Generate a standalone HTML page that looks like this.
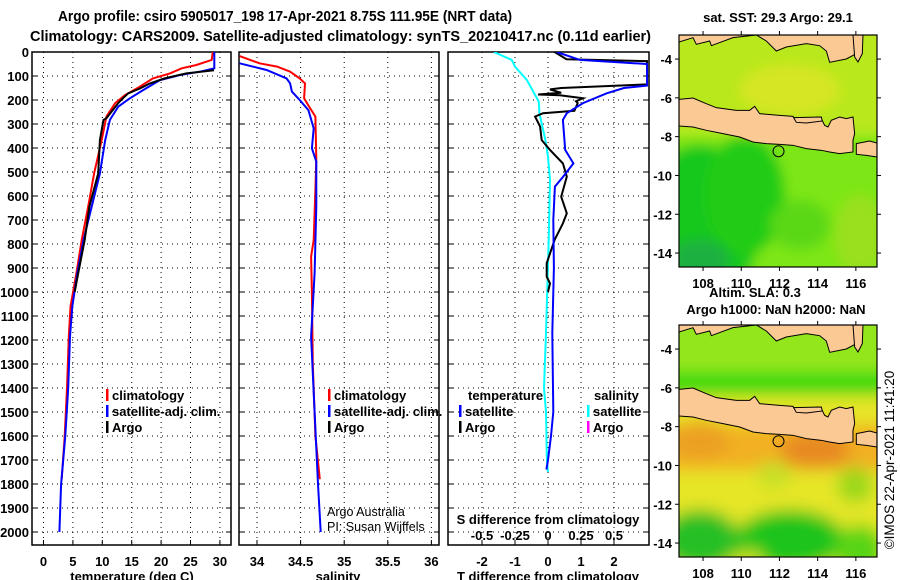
<!DOCTYPE html>
<html><head><meta charset="utf-8">
<style>
body{margin:0;background:#fff;}
svg{display:block;font-family:"Liberation Sans",sans-serif;}
.b{font-weight:bold;font-size:14.5px;}
.t{font-weight:bold;font-size:13px;}
</style></head><body>
<svg id="chart" width="900" height="580" viewBox="0 0 900 580" xmlns="http://www.w3.org/2000/svg">
<rect width="900" height="580" fill="#fff"/>
<text class="b" x="58" y="21" textLength="454" lengthAdjust="spacingAndGlyphs">Argo profile: csiro 5905017_198 17-Apr-2021 8.75S 111.95E (NRT data)</text>
<text class="b" x="30" y="41" textLength="621" lengthAdjust="spacingAndGlyphs">Climatology: CARS2009. Satellite-adjusted climatology: synTS_20210417.nc (0.11d earlier)</text>
<g id="panels"></g>
<g id="maps"></g>
</svg>
<script>
// ---------- data ----------
const depthTicks=[0,100,200,300,400,500,600,700,800,900,1000,1100,1200,1300,1400,1500,1600,1700,1800,1900,2000];
const tempTicks=[0,5,10,15,20,25,30];
const salTicks=[34,34.5,35,35.5,36];
const tdiffTicks=[-2,-1,0,1,2];
const sdiffTicks=[-0.5,-0.25,0,0.25,0.5];
const sdiffTickLabels=["-0.5","-0.25","0","0.25","0.5"];

const tClimDepth=[0,33,54,68,89,110,144,179,213,269,367,506,644,783,922,1061,1186,1400,1600,1780];
const tClimVal=[28.8,28.6,26,23.5,21.5,18.6,16.4,13.9,12.2,10.7,9.9,8.6,7.6,6.5,5.6,4.6,4.3,4.0,3.6,3.1];
const tSatDepth=[0,68,82,96,117,158,193,228,283,367,506,644,783,922,1061,1186,1400,1600,1800,2000];
const tSatVal=[29.05,29.05,26.6,23.2,19.8,17,14.7,12.7,11.3,10.5,9.6,8.2,6.8,5.75,4.9,4.5,4.2,3.7,3.0,2.7];
const tArgoDepth=[76,89,110,131,152,172,193,213,276,283,367,506,644,783,922,1000];
const tArgoVal=[29.0,24.3,20.6,18.1,16.4,14.4,13.5,12.7,10.7,10.2,9.6,9.3,7.8,7.0,5.9,5.3];

const sClimDepth=[17,47,61,82,110,131,193,235,269,443,575,783,853,1000,1300,1600,1780];
const sClimVal=[33.8,34.03,34.23,34.38,34.49,34.55,34.54,34.61,34.67,34.68,34.67,34.65,34.62,34.63,34.64,34.67,34.72];
const sSatDepth=[47,75,110,131,165,200,242,318,401,457,644,922,1186,1500,1800,2000];
const sSatVal=[33.8,34.11,34.34,34.38,34.40,34.49,34.59,34.65,34.63,34.68,34.68,34.66,34.62,34.66,34.70,34.73];

const dtSatDepth=[0,33,50,140,150,172,213,255,283,408,464,519,561,700,900,1172,1400,1500,1600,1700,1740];
const dtSatVal=[0.26,0.97,3.0,3.0,2.3,1.78,1.06,0.57,0.45,0.52,0.77,0.46,0.21,0.16,0.18,0.13,0.15,0.16,0.09,0.0,-0.05];
const dtArgoDepth=[0,30,38,135,150,156,170,177,180,193,205,213,245,255,269,311,367,408,464,519,603,672,714,783,880,936,964,1000];
const dtArgoVal=[0.2,0.56,3.0,3.0,0.4,0.06,0.4,-0.3,0.36,1.06,0.85,0.9,0.8,-0.15,-0.39,-0.24,-0.19,0.06,0.45,0.57,0.4,0.57,0.45,0.2,-0.04,-0.04,0.06,0.0];
const dsSatDepth=[0,33,61,117,207,255,367,436,533,783,1172,1400,1500,1700,1750];
const dsSatVal=[-0.41,-0.275,-0.25,-0.16,-0.07,-0.065,-0.02,0,0.015,0.005,-0.015,-0.03,-0.015,-0.008,0];

// ---------- axes ----------
const yD=d=>52+d*0.24;
const xT=t=>43.5+t*5.88;
const xS=s=>257+(s-34)*87.2;
const xDT=t=>548+t*33;
const xDS=s=>548+s*132;

const NS="http://www.w3.org/2000/svg";
const P=document.getElementById('panels');
function el(tag,attrs,parent,txt){const e=document.createElementNS(NS,tag);for(const k in attrs)e.setAttribute(k,attrs[k]);if(txt!==undefined)e.textContent=txt;(parent||P).appendChild(e);return e;}

const frames=[[32,231],[239,439],[448,649]];
frames.forEach((f,i)=>{
  const g=el('g',{});
  
  
  depthTicks.forEach(d=>{ if(d>0) el('line',{x1:f[0],x2:f[1],y1:yD(d),y2:yD(d),stroke:'#000','stroke-width':1,'stroke-dasharray':'1,4'},g);
    el('line',{x1:f[0],x2:f[0]+5,y1:yD(d),y2:yD(d),stroke:'#000'},g);
    el('line',{x1:f[1]-5,x2:f[1],y1:yD(d),y2:yD(d),stroke:'#000'},g);});
});
function vgrid(ticks,fx){ticks.forEach(t=>{el('line',{x1:fx(t),x2:fx(t),y1:52,y2:545,stroke:'#000','stroke-dasharray':'1,4'});
  el('line',{x1:fx(t),x2:fx(t),y1:545,y2:540,stroke:'#000'});});}
vgrid(tempTicks,xT);vgrid(salTicks,xS);vgrid(tdiffTicks,xDT);
frames.forEach((f,i)=>{const r=el('rect',{x:f[0],y:52,width:f[1]-f[0],height:493,fill:'none',stroke:'#000','stroke-width':1.5});
  
  });
depthTicks.forEach(d=>{const t=el('text',{x:29,y:yD(d)+5,'text-anchor':'end',class:'t'},P,String(d));
  
  });
function xlabels(ticks,fx,name){ticks.forEach(v=>{const t=el('text',{x:fx(v),y:566,'text-anchor':'middle',class:'t'},P,String(v));
  
  });}
xlabels(tempTicks,xT,'temp-tick-label');xlabels(salTicks,xS,'sal-tick-label');xlabels(tdiffTicks,xDT,'tdiff-tick-label');
sdiffTicks.forEach((v,i)=>{const t=el('text',{x:xDS(v),y:540,'text-anchor':'middle',class:'t'},P,sdiffTickLabels[i]);
  
  });
[['temperature (deg C)',132,'temp-axis-title'],['salinity',338,'sal-axis-title'],['T difference from climatology',548,'tdiff-axis-title']].forEach(a=>{
  const t=el('text',{x:a[1],y:581,'text-anchor':'middle',class:'t'},P,a[0]);
  
  });
const st=el('text',{x:548,y:524,'text-anchor':'middle',class:'t'},P,'S difference from climatology');



function series(ds,vs,fx,color,name,w){
  const pts=ds.map((d,i)=>fx(vs[i]).toFixed(1)+','+yD(d).toFixed(1)).join(' ');
  const p=el('polyline',{points:pts,fill:'none',stroke:color,'stroke-width':w||2,'stroke-linejoin':'miter'});
  
  
}
const clip=el('clipPath',{id:'c3'});el('rect',{x:448,y:52,width:201,height:493},clip);
series(tClimDepth,tClimVal,xT,'#f00','temp-climatology-line');
series(tSatDepth,tSatVal,xT,'#00f','temp-satellite-line');
series(tArgoDepth,tArgoVal,xT,'#000','temp-argo-line');
series(sClimDepth,sClimVal,xS,'#f00','sal-climatology-line');
series(sSatDepth,sSatVal,xS,'#00f','sal-satellite-line');
const g3=el('g',{'clip-path':'url(#c3)'});
function series3(ds,vs,fx,color,name){const pts=ds.map((d,i)=>fx(vs[i]).toFixed(1)+','+yD(d).toFixed(1)).join(' ');
  const p=el('polyline',{points:pts,fill:'none',stroke:color,'stroke-width':2},g3);
  
  }
series3(dsSatDepth,dsSatVal,xDS,'#0ff','sdiff-satellite-line');
series3(dtArgoDepth,dtArgoVal,xDT,'#000','tdiff-argo-line');
series3(dtSatDepth,dtSatVal,xDT,'#00f','tdiff-satellite-line');

function leg(x,y,color,label,name){const g=el('g',{});
  
  
  el('rect',{x:x,y:y-11,width:2.5,height:12,fill:color},g);
  el('text',{x:x+6,y:y,class:'t'},g,label);}
leg(106,400,'#f00','climatology','legend-temp-climatology');
leg(106,416,'#00f','satellite-adj. clim.','legend-temp-satellite');
leg(106,432,'#000','Argo','legend-temp-argo');
leg(328,400,'#f00','climatology','legend-sal-climatology');
leg(328,416,'#00f','satellite-adj. clim.','legend-sal-satellite');
leg(328,432,'#000','Argo','legend-sal-argo');
const lh1=el('text',{x:468,y:400,class:'t'},P,'temperature');


const lh2=el('text',{x:594,y:400,class:'t'},P,'salinity');


leg(459,416,'#00f','satellite','legend-tdiff-satellite');
leg(459,432,'#000','Argo','legend-tdiff-argo');
leg(587,416,'#0ff','satellite','legend-sdiff-satellite');
leg(587,432,'#f0f','Argo','legend-sdiff-argo');
const c1=el('text',{x:327,y:516,'font-size':'12.5'},P,'Argo Australia');


const c2=el('text',{x:327,y:531,'font-size':'12.5'},P,'PI: Susan Wijffels');



// ---------- maps ----------
const M=document.getElementById('maps');
const mapLons=[108,110,112,114,116];
const mapLats=[-4,-6,-8,-10,-12,-14];
const lonX=lon=>679+(lon-106.74)*19.1;
const latY=(lat,top)=>top+(-2.76-lat)*19.4;
const java="118,297 160,293 200,310 230,322 290,330 330,330 345,318 360,340 420,345 460,348 470,365 500,362 530,350 545,355 555,375 565,380 575,360 600,350 620,355 640,350 645,400 640,420 640,455 600,460 570,455 545,450 500,445 460,435 420,432 380,430 340,425 300,410 250,400 200,390 160,380 118,377";
const madura="462,352 545,350 548,362 500,368 470,366";
const bali="650,430 690,422 712,428 712,470 680,465 650,462";
const borneo="118,104 118,125 160,112 170,132 210,122 215,136 280,112 350,104 380,122 410,152 440,140 500,130 540,136 560,152 570,186 620,176 650,160 652,104";
const isl="640,104 670,104 668,160 655,185 645,170";
function drawMap(top,kind,name){
  const g=el('g',{},M);
  
  
  const cid='mc'+kind;
  const cp=el('clipPath',{id:cid},g);el('rect',{x:679,y:top,width:198,height:232},cp);
  const f=el('filter',{id:'bl'+kind,x:'-20%',y:'-20%',width:'140%',height:'140%'},g);el('feGaussianBlur',{stdDeviation:kind==1?6:8},f);
  const inner=el('g',{'clip-path':'url(#'+cid+')'},g);
  const b=el('g',{filter:'url(#bl'+kind+')'},inner);
  if(kind==1){
    el('rect',{x:660,y:top-20,width:240,height:270,fill:'#7de616'},b);
    el('rect',{x:660,y:top-20,width:240,height:120,fill:'#b9e81e'},b);
    el('ellipse',{cx:790,cy:top+55,rx:50,ry:25,fill:'#d6e620'},b);
    el('ellipse',{cx:700,cy:top+190,rx:60,ry:80,fill:'#12c81a'},b);
    el('ellipse',{cx:745,cy:top+160,rx:40,ry:60,fill:'#22cc14'},b);
    el('ellipse',{cx:700,cy:top+225,rx:30,ry:20,fill:'#1cb040'},b);
    el('ellipse',{cx:800,cy:top+190,rx:30,ry:25,fill:'#5ad818'},b);
    el('ellipse',{cx:860,cy:top+200,rx:25,ry:40,fill:'#9ae01a'},b);
  } else {
    el('rect',{x:660,y:top-20,width:240,height:270,fill:'#e6e628'},b);
    el('rect',{x:660,y:top-20,width:240,height:90,fill:'#94e61c'},b);
    el('rect',{x:660,y:top+48,width:240,height:22,fill:'#1cd810'},b);
    el('rect',{x:660,y:top+100,width:240,height:45,fill:'#f2b020'},b);
    el('ellipse',{cx:815,cy:top+125,rx:35,ry:20,fill:'#e88a20'},b);
    el('ellipse',{cx:700,cy:top+115,rx:30,ry:20,fill:'#eca020'},b);
    el('ellipse',{cx:774,cy:top+150,rx:18,ry:14,fill:'#c6e028'},b);
    el('ellipse',{cx:855,cy:top+160,rx:18,ry:18,fill:'#9ad81e'},b);
    el('ellipse',{cx:700,cy:top+215,rx:40,ry:30,fill:'#28c028'},b);
    el('ellipse',{cx:790,cy:top+215,rx:55,ry:30,fill:'#1ec41e'},b);
    el('ellipse',{cx:860,cy:top+225,rx:25,ry:25,fill:'#58d418'},b);
    el('ellipse',{cx:750,cy:top+240,rx:15,ry:15,fill:'#cfe028'},b);
  }
  const land=el('g',{transform:'translate(679,'+top+') scale(0.3333) translate(-118,-104)',fill:'#fbc994',stroke:'#000','stroke-width':3},inner);
  [java,madura,bali,borneo,isl].forEach((p,i)=>{const pl=el('polygon',{points:p},land);
    
    });
  el('rect',{x:679,y:top,width:198,height:232,fill:'none',stroke:'#000','stroke-width':1.2},g);
  const mk=el('circle',{cx:lonX(111.95),cy:latY(-8.75,top),r:5.5,fill:'none',stroke:'#000','stroke-width':1},g);
  
  
  mapLons.forEach(l=>{el('line',{x1:lonX(l),x2:lonX(l),y1:top+232,y2:top+236,stroke:'#000'},g);
    el('line',{x1:lonX(l),x2:lonX(l),y1:top,y2:top-4,stroke:'#000'},g);
    const t=el('text',{x:lonX(l),y:top+253,'text-anchor':'middle',class:'t'},g,String(l));
    
    });
  mapLats.forEach(l=>{const y=latY(l,top);el('line',{x1:675,x2:679,y1:y,y2:y,stroke:'#000'},g);
    el('line',{x1:877,x2:881,y1:y,y2:y,stroke:'#000'},g);
    const t=el('text',{x:672,y:y+5,'text-anchor':'end',class:'t'},g,String(l));
    
    });
}
drawMap(35,1,'sst-map');
drawMap(325,2,'sla-map');
[['sat. SST: 29.3 Argo: 29.1',778,22,'sst-map-title'],['Altim. SLA: 0.3',755,297,'sla-title'],['Argo h1000: NaN h2000: NaN',776,314,'argo-height-title']].forEach(a=>{
  const t=el('text',{x:a[1],y:a[2],'text-anchor':'middle',class:'t'},M,a[0]);
  
  });
const cr=el('text',{x:0,y:0,'font-size':'13.5',transform:'translate(894,460) rotate(-90)','text-anchor':'middle'},M,'©IMOS 22-Apr-2021 11:41:20');


</script>
</body></html>
